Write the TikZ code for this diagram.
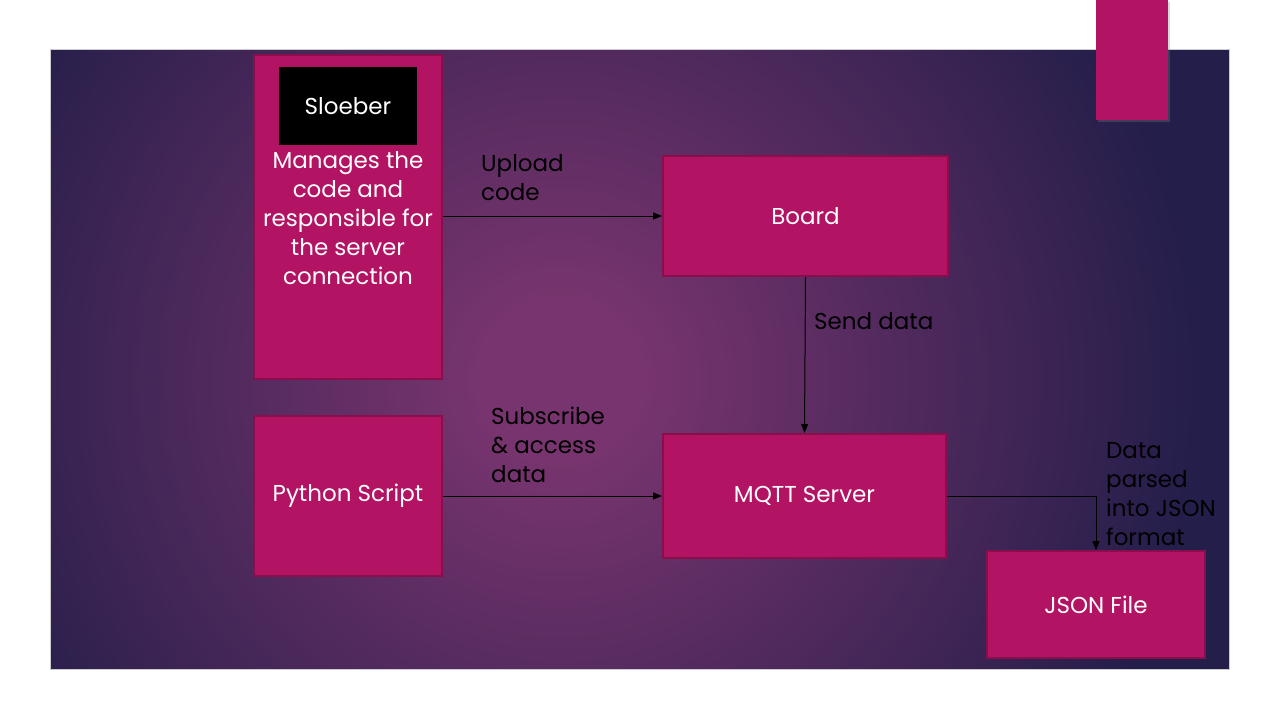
\documentclass[tikz,border=0pt]{standalone}
\usepackage{fontspec}
\setmainfont{Poppins}
\usetikzlibrary{arrows.meta}
\usetikzlibrary{shadows}

\definecolor{slidepink}{RGB}{179,19,99}
\definecolor{pinkedge}{RGB}{138,14,76}
\definecolor{glowin}{RGB}{120,52,110}
\definecolor{glowout}{RGB}{36,30,74}
\pgfdeclareradialshading{panelglow}{\pgfpointorigin}{color(0bp)=(glowin); color(3bp)=(glowin); color(25bp)=(glowout); color(50bp)=(glowout)}

\tikzset{
  pinkbox/.style={fill=slidepink, draw=pinkedge, line width=2pt, text=white, align=center, inner sep=0pt},
  flowtext/.style={text=black, align=left, anchor=west, inner sep=0pt},
  flow/.style={-{Triangle[length=9pt,width=7pt]}, black, line width=1pt}
}

\begin{document}
\begin{tikzpicture}[x=1pt,y=-1pt,font=\fontsize{23}{29}\selectfont]
\useasboundingbox (0,0) rectangle (1280,720);
\fill[white] (0,0) rectangle (1280,720);

% background panel
\fill[glowout] (50,49) rectangle (1229,669);
\begin{scope}
\clip (50,49) rectangle (1229,669);
\shade[shading=panelglow] (560,380) circle (640);
\end{scope}
\draw[black!20, line width=1pt] (50,49) rectangle (1229,669);
\fill[slidepink, drop shadow={shadow xshift=2pt, shadow yshift=-2pt, opacity=0.3}] (1096,0) rectangle (1168,120);

% boxes
\node[pinkbox, minimum width=188, minimum height=324] (tool) at (348,217) {};
\node[fill=black, text=white, minimum width=138, minimum height=78, inner sep=0pt] (sloeber) at (348,106) {Sloeber};
\node[text=white, align=center, inner sep=0pt] (tooltext) at (348,218) {Manages the\\code and\\responsible for\\the server\\connection};
\node[pinkbox, minimum width=285, minimum height=120] (board) at (805.5,216) {Board};
\node[pinkbox, minimum width=188, minimum height=160] (python) at (348,496) {Python Script};
\node[pinkbox, minimum width=283, minimum height=124] (mqtt) at (804.5,496) {MQTT Server};
\node[pinkbox, minimum width=218, minimum height=107] (json) at (1096,604.5) {JSON File};

% connectors
\draw[flow] (tool.east |- board.west) -- (board.west);
\draw[flow] (board.south) -- (mqtt.north);
\draw[flow] (python.east) -- (mqtt.west);
\draw[flow] (mqtt.east) -| (json.north);

% labels
\node[flowtext] (uploadlbl) at (481,178) {Upload\\code};
\node[flowtext] (sendlbl) at (814,321) {Send data};
\node[flowtext] (sublbl) at (491,445) {Subscribe\\\& access\\data};
\node[flowtext] (parselbl) at (1106,494) {Data\\parsed\\into JSON\\format};

\end{tikzpicture}
\end{document}
